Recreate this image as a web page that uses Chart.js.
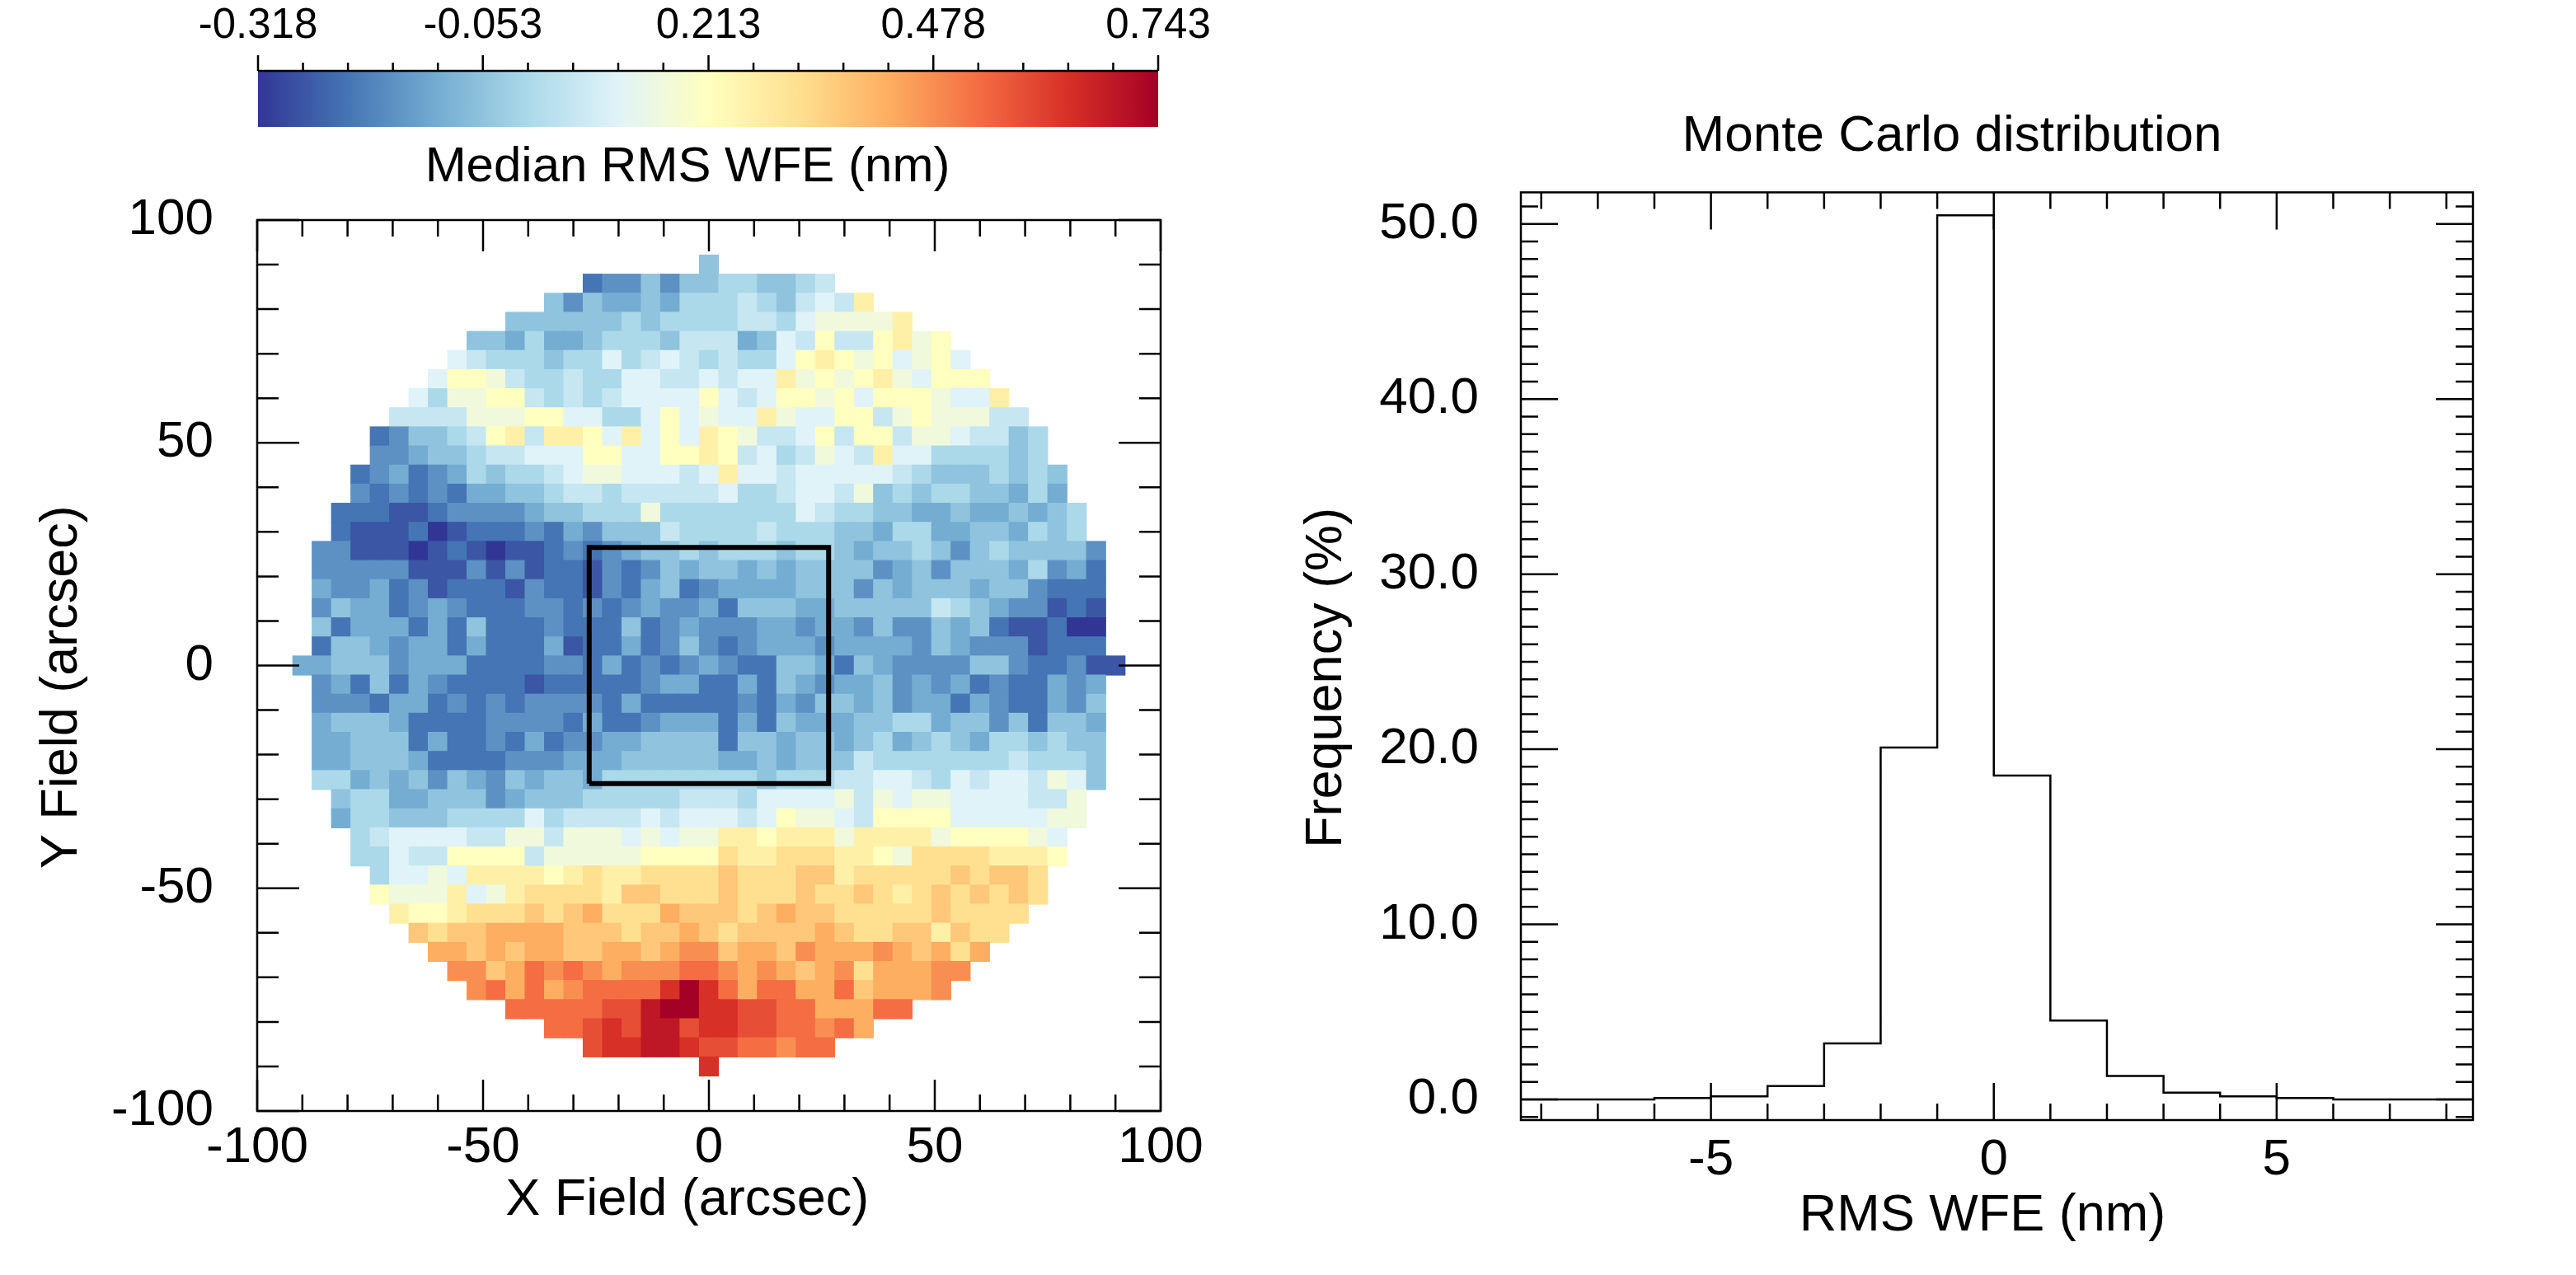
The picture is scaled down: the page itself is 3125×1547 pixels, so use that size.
<!DOCTYPE html>
<html>
<head>
<meta charset="utf-8">
<script src="https://cdn.jsdelivr.net/npm/chart.js@4.4.1/dist/chart.umd.min.js"></script>
<style>
  html, body { margin: 0; padding: 0; background: #fff; overflow: hidden; }
  body { width: 3125px; height: 1547px; position: relative; }
  canvas { position: absolute; top: 0; }
  #mapChart { left: 0; }
  #barChart { left: 0; }
  #histChart { left: 1560px; }
</style>
</head>
<body>
<canvas id="mapChart" width="1560" height="1547"></canvas>
<canvas id="barChart" width="1560" height="267"></canvas>
<canvas id="histChart" width="1616" height="1547"></canvas>
<script>
// Field map, one row per line from y = +90 down to y = -90 arcsec.
// "left centre right": letters a..u are colour-bar levels (a = -0.318, u = 0.743)
const wfeRows = [
  ' f ',
  'cddfdf f ggffgh',
  'fdfeefeg g ghgfhihl',
  'ffffffgfgg g ghhgijjjjl',
  'ffegeefgggfh h hefihkhhkljk',
  'ihgggfggighih g hggiklkjkijki',
  'ikkjhgghggiihh i hiiljkjkljikkk',
  'igjjkkhghghiiii k ihikkjkikkkjiil',
  'hhhhjjjkkiiggiki j iiljiikkhjkjjjhh',
  'cdffghklhllkiliki l kjhhikhkkhjjihhfg',
  'ddeffghhiiikkiikk l khighjihliiggggfg',
  'cdecdegfgghijjiiih i liihiiiiihgfffgfgf',
  'dcdcdceeffghhghhhh h igghiihjfgfggffege',
  'cccbbcddddeffgggjgg g ggggihggffeefeefefg',
  'cbbbcabcccdcedfffhg g gghgggffeggeeffegfg',
  'ddbbbabcbabbcdcdeffg f gggfggfeffgfdfgffffd',
  'dddddbbbdbdbccbdcdfe f fefeffffdefdfffegdec',
  'eddecdbcccbdccbdcefc d eeeefffdfefffeffdccc',
  'dfeecdedcccddcdcdedd e cfffeefffffhgfeddbcb',
  'fceeececfcccdcccfcde d ddeedeedfddfefcbbcaa',
  'cffedeececccebccecdf d cdeeedeeeedfedddbccc',
  'eefffdeeeccccddcecdcd e dccffecfeddddffdccdbb',
  'decfcedccccbcccccdee c cecfedeefdedecdccede',
  'dddceecdcdcddddceccc c cdcedffefdeecedccedf',
  'efffeccccddddceccdee e cecfeeeffggeffdfcffe',
  'eefffceccdcecddeefff f cffeffefgefgfeggfgff',
  'eefffeccccdddeeeffff f eefefffhggggggghgggf',
  'ggefefdfedfeffeggggg g ggfggghhiihgihiihjif',
  'fggeefffdefffgggggh h hgiiiijhjijjiiiihhj',
  'eggfffggggighhhhihi i ihikjjihkkkkiiiiijj',
  'ghiiiihhjjhjjjijij j llkllljlllljkkkkji',
  'ggihhkkkkhjjjjjkkk k mllmmmllkjmmmmlllk',
  'giijillllklmllmmm m nmmmnnlmmmmmnmnnm',
  'kjjjlijlmmmmlnnmm m nmmmnmmnmlmnmnmnm',
  'lkklmmmnmnommmon n nmnonnmmmmmnmmmm',
  'nmnnoooonnnmnno n mnnnnonmmnnlnmm',
  'oononoonnoonop p noonpoooponomo',
  'ppnoqpqpopppq q poponopmooopp',
  'pqoqopqqqqsu s qoqqooqnooop',
  'qqqqqrrtuu s srrqqoooqq',
  'qqrsrttr s srrqqpqo',
  'rsstts r rqqpqq',
  ' s '
];
const levelCodes = 'abcdefghijklmnopqrstu';
const cellStep = 30 / 7;            // arcsec between cell centres
const wfeMin = -0.318, wfeMax = 0.743;
const cbTicks = [-0.318, -0.053, 0.213, 0.478, 0.743];
const cbLabels = ['-0.318', '-0.053', '0.213', '0.478', '0.743'];
const fieldTicks = [-100, -50, 0, 50, 100];
const boxX = [-26.5, -26.5, 26.5, 26.5, -26.5];
const boxY = [-26.5, 26.5, 26.5, -26.5, -26.5];

// Monte Carlo histogram (bin left edges, last value closes the final bin)
const binEdges = [-9, -8, -7, -6, -5, -4, -3, -2, -1, 0, 1, 2, 3, 4, 5, 6, 7, 8, 9];
const binFreq = [0, 0, 0, 0.08, 0.17, 0.76, 3.2, 20.1, 50.5, 18.5, 4.5, 1.34, 0.38, 0.17, 0.08, 0, 0, 0];
const rmsTicks = [-5, 0, 5];
const freqTicks = [0, 10, 20, 30, 40, 50];

const FONT = '"Liberation Sans", Arial, Helvetica, sans-serif';
Chart.defaults.font.family = FONT;
Chart.defaults.color = '#000';

// the original titles sit a little off-centre, a few trailing spaces reproduce that
const nb = n => '\u00a0'.repeat(n);

const rdylbu = ['#313695', '#4575b4', '#74add1', '#abd9e9', '#e0f3f8', '#ffffbf',
                '#fee090', '#fdae61', '#f46d43', '#d73027', '#a50026'];

function hexRgb(h) {
  return [1, 3, 5].map(k => parseInt(h.slice(k, k + 2), 16));
}

function colourFor(v) {
  let t = (v - wfeMin) / (wfeMax - wfeMin);
  t = Math.min(1, Math.max(0, t));
  const p = t * 10;
  const k = Math.min(9, Math.floor(p));
  const f = p - k;
  const a = hexRgb(rdylbu[k]), b = hexRgb(rdylbu[k + 1]);
  return 'rgb(' + a.map((c, n) => Math.round(c + (b[n] - c) * f)).join(',') + ')';
}

// decode the rows into cells
const cells = [];
const half = (wfeRows.length - 1) / 2;
wfeRows.forEach((row, r) => {
  const j = half - r;
  const parts = row.split(' ');
  const codes = parts.join('');
  const i0 = -parts[0].length;
  [...codes].forEach((ch, k) => {
    const lvl = levelCodes.indexOf(ch);
    cells.push({
      x: (i0 + k) * cellStep,
      y: j * cellStep,
      v: wfeMin + lvl / 20 * (wfeMax - wfeMin)
    });
  });
});

function cellRadius(chart) {
  const xs = chart.scales.x, ys = chart.scales.y;
  if (!xs || !ys) return 10;
  const w = Math.abs(xs.getPixelForValue(cellStep) - xs.getPixelForValue(0));
  const h = Math.abs(ys.getPixelForValue(cellStep) - ys.getPixelForValue(0));
  return (Math.max(w, h) + 0.8) / Math.SQRT2;   // 'rect' point side = radius * sqrt(2)
}

function isMultiple(v, step) {
  const q = v / step;
  return Math.abs(q - Math.round(q)) < 1e-6;
}

// box with inward ticks on all four sides
const framePlugin = {
  id: 'frame',
  afterDraw(chart, args, o) {
    const { ctx, chartArea: a } = chart;
    const xs = chart.scales.x, ys = chart.scales.y;
    ctx.save();
    ctx.strokeStyle = '#000';
    ctx.lineWidth = o.width;
    ctx.lineCap = 'butt';
    ctx.strokeRect(a.left, a.top, a.right - a.left, a.bottom - a.top);
    ctx.beginPath();
    for (let n = Math.ceil(xs.min / o.xMinor); n * o.xMinor <= xs.max + 1e-9; n++) {
      const v = n * o.xMinor;
      const p = xs.getPixelForValue(v);
      const len = isMultiple(v, o.xMajor) ? o.xMajorLen : o.xMinorLen;
      ctx.moveTo(p, a.bottom); ctx.lineTo(p, a.bottom - len);
      ctx.moveTo(p, a.top); ctx.lineTo(p, a.top + len);
    }
    for (let n = Math.ceil(ys.min / o.yMinor); n * o.yMinor <= ys.max + 1e-9; n++) {
      const v = n * o.yMinor;
      const p = ys.getPixelForValue(v);
      const len = isMultiple(v, o.yMajor) ? o.yMajorLen : o.yMinorLen;
      ctx.moveTo(a.left, p); ctx.lineTo(a.left + len, p);
      ctx.moveTo(a.right, p); ctx.lineTo(a.right - len, p);
    }
    ctx.stroke();
    ctx.restore();
  }
};

// colour bar: gradient over the chart area of the 'cb' scale, ticks above it
const colourBarPlugin = {
  id: 'colourBar',
  afterDraw(chart, args, o) {
    const cb = chart.scales.cb;
    const { ctx, chartArea: a } = chart;
    const x0 = cb.getPixelForValue(wfeMin), x1 = cb.getPixelForValue(wfeMax);
    ctx.save();
    const g = ctx.createLinearGradient(x0, 0, x1, 0);
    rdylbu.forEach((c, k) => g.addColorStop(k / 10, c));
    ctx.fillStyle = g;
    ctx.fillRect(x0, a.top, x1 - x0, a.bottom - a.top);
    ctx.strokeStyle = '#000';
    ctx.lineWidth = 2.5;
    ctx.beginPath();
    ctx.moveTo(x0, a.top); ctx.lineTo(x1, a.top);
    for (let k = 0; k < cbTicks.length; k++) {
      const p = cb.getPixelForValue(cbTicks[k]);
      ctx.moveTo(p, a.top); ctx.lineTo(p, a.top - o.majorLen);
      if (k < cbTicks.length - 1) {
        for (let m = 1; m < 5; m++) {
          const q = cb.getPixelForValue(cbTicks[k] + (cbTicks[k + 1] - cbTicks[k]) * m / 5);
          ctx.moveTo(q, a.top); ctx.lineTo(q, a.top - o.minorLen);
        }
      }
    }
    ctx.stroke();
    ctx.restore();
  }
};

const plainGrid = { display: false, drawTicks: false };

new Chart(document.getElementById('mapChart'), {
  type: 'scatter',
  data: {
    datasets: [
      {
        label: 'box',
        order: 1,
        showLine: true,
        data: boxX.map((x, k) => ({ x: x, y: boxY[k] })),
        borderColor: '#000',
        borderWidth: 6,
        borderJoinStyle: 'miter',
        pointRadius: 0,
        fill: false
      },
      {
        label: 'Median RMS WFE',
        order: 2,
        data: cells,
        pointStyle: 'rect',
        pointRadius: c => cellRadius(c.chart),
        pointBorderWidth: 0,
        pointBackgroundColor: c => (c.raw ? colourFor(c.raw.v) : '#000')
      }
    ]
  },
  options: {
    responsive: false,
    animation: false,
    devicePixelRatio: 1,
    events: [],
    layout: { padding: { left: 0, top: 267, right: 152, bottom: 0 } },
    plugins: {
      legend: { display: false },
      tooltip: { enabled: false },
      frame: { width: 2.5, xMinor: 10, xMajor: 50, xMinorLen: 20, xMajorLen: 38,
               yMinor: 10, yMajor: 50, yMinorLen: 26, yMajorLen: 51 }
    },
    scales: {
      x: {
        type: 'linear', position: 'bottom', min: -100, max: 100,
        afterBuildTicks: s => { s.ticks = fieldTicks.map(v => ({ value: v })); },
        afterFit: s => { s.height = 199; },
        grid: plainGrid, border: { display: false },
        ticks: { font: { size: 62 }, padding: 8, maxRotation: 0, autoSkip: false,
                 callback: v => String(v) },
        title: { display: true, text: 'X Field (arcsec)' + nb(3), font: { size: 63 },
                 padding: { top: 0, bottom: 53 } }
      },
      y: {
        type: 'linear', position: 'left', min: -100, max: 100,
        afterBuildTicks: s => { s.ticks = fieldTicks.map(v => ({ value: v })); },
        afterFit: s => { s.width = 312; },
        grid: plainGrid, border: { display: false },
        ticks: { font: { size: 62 }, padding: 53, autoSkip: false,
                 callback: v => String(v) },
        title: { display: true, text: 'Y Field (arcsec)' + nb(3), font: { size: 63 },
                 padding: { top: 38, bottom: 0 } }
      }
    }
  },
  plugins: [framePlugin]
});

// colour bar as its own small chart: chart area = the bar
new Chart(document.getElementById('barChart'), {
  type: 'scatter',
  data: { datasets: [] },
  options: {
    responsive: false,
    animation: false,
    devicePixelRatio: 1,
    events: [],
    layout: { padding: { left: 313, top: 0, right: 155, bottom: 0 } },
    plugins: {
      legend: { display: false },
      tooltip: { enabled: false },
      colourBar: { majorLen: 19, minorLen: 10 }
    },
    scales: {
      cb: {
        type: 'linear', axis: 'x', position: 'top', min: wfeMin, max: wfeMax,
        afterBuildTicks: s => { s.ticks = cbTicks.map(v => ({ value: v })); },
        afterFit: s => { s.height = 86; },
        grid: plainGrid, border: { display: false },
        ticks: { font: { size: 51 }, padding: 23, maxRotation: 0, autoSkip: false,
                 callback: (v, i) => cbLabels[i] }
      },
      cbTitle: {
        type: 'linear', axis: 'x', position: 'bottom', min: wfeMin, max: wfeMax,
        afterFit: s => { s.height = 113; },
        grid: plainGrid, border: { display: false },
        ticks: { display: false },
        title: { display: true, text: 'Median RMS WFE (nm)' + nb(3), font: { size: 60 },
                 padding: { top: 0, bottom: 28 } }
      },
      y: { display: false }
    }
  },
  plugins: [colourBarPlugin]
});

const histPoints = binEdges.map((x, k) => ({ x: x, y: k < binFreq.length ? binFreq[k] : binFreq[binFreq.length - 1] }));

new Chart(document.getElementById('histChart'), {
  type: 'scatter',
  data: {
    datasets: [{
      label: 'Monte Carlo',
      data: histPoints,
      showLine: true,
      stepped: 'before',
      borderColor: '#000',
      borderWidth: 2.5,
      pointRadius: 0,
      fill: false
    }]
  },
  options: {
    responsive: false,
    animation: false,
    devicePixelRatio: 1,
    events: [],
    layout: { padding: 0 },
    plugins: {
      legend: { display: false },
      tooltip: { enabled: false },
      title: { display: true, text: 'Monte Carlo distribution',
               font: { size: 62, weight: 'normal' }, color: '#000',
               padding: { top: 129, bottom: 30 } },
      frame: { width: 2.5, xMinor: 1, xMajor: 5, xMinorLen: 20, xMajorLen: 45,
               yMinor: 1, yMajor: 10, yMinorLen: 21, yMajorLen: 45 }
    },
    scales: {
      x: {
        type: 'linear', position: 'bottom', min: -8.36, max: 8.47,
        afterBuildTicks: s => { s.ticks = rmsTicks.map(v => ({ value: v })); },
        afterFit: s => { s.height = 188; },
        grid: plainGrid, border: { display: false },
        ticks: { font: { size: 62 }, padding: 12, maxRotation: 0, autoSkip: false,
                 callback: v => String(v) },
        title: { display: true, text: 'RMS WFE (nm)' + nb(2), font: { size: 63 },
                 padding: { top: 0, bottom: 34 } }
      },
      y: {
        type: 'linear', position: 'left', min: -1.18, max: 51.81,
        afterBuildTicks: s => { s.ticks = freqTicks.map(v => ({ value: v })); },
        afterFit: s => { s.width = 285; },
        grid: plainGrid, border: { display: false },
        ticks: { font: { size: 62 }, padding: 51, autoSkip: false,
                 callback: v => v.toFixed(1) },
        title: { display: true, text: 'Frequency (%)' + nb(3), font: { size: 63 },
                 padding: { top: 12, bottom: 0 } }
      },
      pad: {
        type: 'linear', axis: 'y', position: 'right', display: true,
        afterFit: s => { s.width = 176; },
        grid: plainGrid, border: { display: false },
        ticks: { display: false }
      }
    }
  },
  plugins: [framePlugin]
});
</script>
</body>
</html>
